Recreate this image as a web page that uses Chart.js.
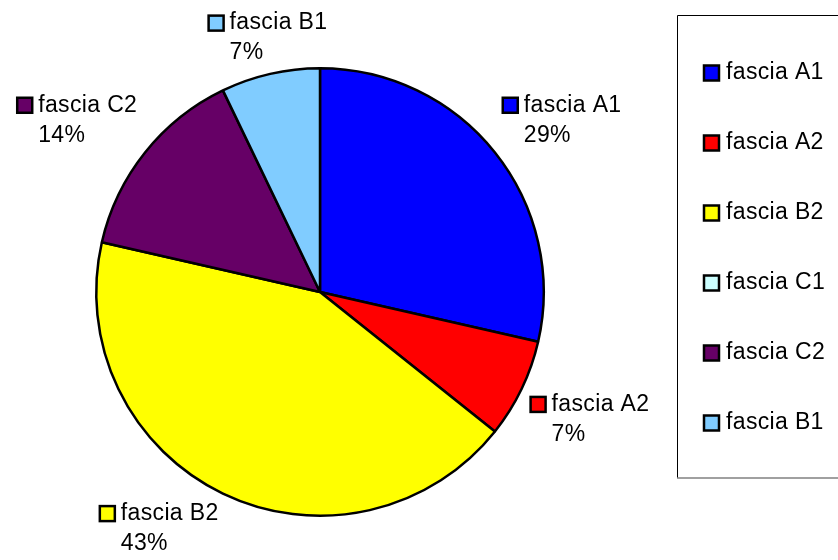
<!DOCTYPE html>
<html>
<head>
<meta charset="utf-8">
<script src="https://cdn.jsdelivr.net/npm/chart.js@4/dist/chart.umd.min.js"></script>
<style>
    html, body { margin: 0; padding: 0; background: #fff; }
    #wrap { width: 838px; height: 560px; position: relative; }
</style>
</head>
<body>
<div id="wrap"><canvas id="pieChart" width="838" height="560"></canvas></div>
<script>
const categories = ['fascia A1', 'fascia A2', 'fascia B2', 'fascia C1', 'fascia C2', 'fascia B1'];
const counts = [4, 1, 6, 0, 2, 1];
const sliceColors = ['#0000FF', '#FF0000', '#FFFF00', '#CCFFFF', '#660066', '#80CCFF'];

const FONT = '23px "Liberation Sans", Arial, sans-serif';
const SPACING = '0.35px';

// outside labels: square + name, percentage underneath
const outsideLabels = {
    id: 'outsideLabels',
    afterDatasetsDraw(chart) {
        const ctx = chart.ctx;
        const meta = chart.getDatasetMeta(0);
        const data = chart.data.datasets[0].data;
        const total = data.reduce((a, b) => a + b, 0);
        ctx.save();
        ctx.font = FONT;
        ctx.letterSpacing = SPACING;
        ctx.textBaseline = 'middle';
        ctx.textAlign = 'left';
        meta.data.forEach((arc, i) => {
            if (!data[i]) return;
            const p = arc.getProps(['x', 'y', 'startAngle', 'endAngle', 'outerRadius'], true);
            const mid = (p.startAngle + p.endAngle) / 2;
            const d = p.outerRadius + 10;
            const ax = p.x + Math.cos(mid) * d;
            const ay = p.y + Math.sin(mid) * d;
            const name = chart.data.labels[i];
            const pct = Math.round(data[i] / total * 100) + '%';
            const sq = 15, gap = 6;
            const w = sq + gap + ctx.measureText(name).width;
            const h = 52;
            const cx = Math.cos(mid), cy = Math.sin(mid);
            const fx = Math.abs(cx) < 0.3 ? 0 : Math.sign(cx);
            const fy = Math.abs(cy) < 0.3 ? 0 : Math.sign(cy);
            const left = ax + fx * w / 2 - w / 2;
            const top = ay + fy * h / 2 - h / 2;
            const y1 = top + 11, y2 = top + 41;
            ctx.fillStyle = sliceColors[i];
            ctx.fillRect(left, y1 - sq / 2, sq, sq);
            ctx.lineWidth = 2.5;
            ctx.strokeStyle = '#000';
            ctx.strokeRect(left, y1 - sq / 2, sq, sq);
            ctx.fillStyle = '#000';
            ctx.fillText(name, left + sq + gap, y1);
            ctx.fillText(pct, left + sq + gap, y2);
        });
        ctx.restore();
    }
};

// boxed legend on the right
const boxLegend = {
    id: 'boxLegend',
    afterDraw(chart) {
        const ctx = chart.ctx;
        ctx.save();
        ctx.lineWidth = 1;
        ctx.strokeStyle = '#000';
        ctx.beginPath();
        ctx.moveTo(677.5, 478);
        ctx.lineTo(677.5, 15.5);
        ctx.lineTo(840, 15.5);
        ctx.stroke();
        ctx.strokeStyle = '#808080';
        ctx.lineWidth = 1.5;
        ctx.beginPath();
        ctx.moveTo(677, 478);
        ctx.lineTo(840, 478);
        ctx.stroke();
        ctx.font = FONT;
        ctx.letterSpacing = SPACING;
        ctx.textBaseline = 'middle';
        chart.data.labels.forEach((lab, i) => {
            const y = 73 + i * 70;
            ctx.fillStyle = sliceColors[i];
            ctx.fillRect(704, y - 7.5, 15, 15);
            ctx.lineWidth = 2.5;
            ctx.strokeStyle = '#000';
            ctx.strokeRect(704, y - 7.5, 15, 15);
            ctx.fillStyle = '#000';
            ctx.fillText(lab, 726, y);
        });
        ctx.restore();
    }
};

new Chart(document.getElementById('pieChart'), {
    type: 'pie',
    data: {
        labels: categories,
        datasets: [{
            data: counts,
            backgroundColor: sliceColors,
            borderColor: '#000',
            borderWidth: 2.5,
            borderAlign: 'center'
        }]
    },
    options: {
        responsive: false,
        animation: false,
        layout: {
            padding: { left: 95, right: 293, top: 67, bottom: 43 }
        },
        plugins: {
            legend: { display: false },
            tooltip: { enabled: false }
        }
    },
    plugins: [outsideLabels, boxLegend]
});
</script>
</body>
</html>
